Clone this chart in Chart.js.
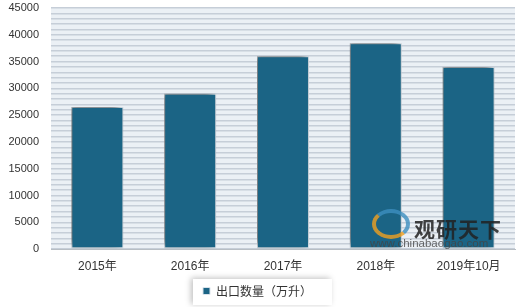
<!DOCTYPE html>
<html>
<head>
<meta charset="utf-8">
<script src="https://cdn.jsdelivr.net/npm/chart.js@4/dist/chart.umd.min.js"></script>
<style>
  html, body { margin: 0; padding: 0; background: #fff; }
  #wrap { position: relative; width: 520px; height: 307px; }
  #mark1 { position: absolute; left: 414px; top: 213px; font: bold 21px "Noto Sans CJK SC"; color: #222; letter-spacing: 1px; opacity: 0.85; }
  #mark2 { position: absolute; left: 370px; top: 237px; font: 11.5px "Liberation Sans"; color: #444; opacity: 0.8; }
  #logo { position: absolute; left: 372px; top: 209px; width: 30px; height: 22px; border-radius: 50%;
          border: 4px solid #3e8fc0; border-bottom-color: #f0a020; border-left-color: #f0a020; opacity: 0.8; }
</style>
</head>
<body>
<div id="wrap">
  <canvas id="myChart" width="520" height="307"></canvas>
  <div id="logo"></div>
  <div id="mark1">观研天下</div>
  <div id="mark2">www.chinabaogao.com</div>
</div>
<script>
var categories = ['2015年', '2016年', '2017年', '2018年', '2019年10月'];
var exportVolume = [26500, 29000, 36000, 38400, 34000];
var seriesName = '出口数量（万升）';
var yTickLabels = [0, 5000, 10000, 15000, 20000, 25000, 30000, 35000, 40000, 45000];

var barColor = '#1b6485';

// striped plot background + white legend box with shadow
var backdrop = {
    id: 'backdrop',
    beforeDraw: function (chart) {
        var ctx = chart.ctx, a = chart.chartArea;
        ctx.save();
        ctx.fillStyle = '#ebf0f5';
        ctx.fillRect(a.left, a.top, a.right - a.left, a.bottom - a.top);
        var box = chart.legend.legendHitBoxes[0];
        if (box) {
            ctx.shadowColor = 'rgba(0,0,0,0.25)';
            ctx.shadowBlur = 6;
            ctx.shadowOffsetX = -2;
            ctx.shadowOffsetY = -1;
            ctx.fillStyle = '#fff';
            ctx.fillRect(box.left - 10, box.top - 6, box.width + 30, box.height + 14);
        }
        ctx.restore();
    },
    beforeDatasetsDraw: function (chart) {
        var ctx = chart.ctx;
        ctx.save();
        ctx.shadowColor = 'rgba(0,0,0,0.6)';
        ctx.shadowBlur = 7;
        ctx.shadowOffsetX = -3;
        ctx.shadowOffsetY = -2;
    },
    afterDatasetsDraw: function (chart) {
        chart.ctx.restore();
    }
};

var ctx = document.getElementById('myChart');

var myChart = new Chart(ctx, {
    type: 'bar',
    data: {
        labels: categories,
        datasets: [{
            label: seriesName,
            data: exportVolume,
            backgroundColor: barColor,
            borderColor: '#d8e2ea',
            borderWidth: 1,
            borderSkipped: false,
            categoryPercentage: 1,
            barPercentage: 0.56
        }]
    },
    options: {
        responsive: false,
        animation: false,
        layout: { padding: { top: 0, right: 5, left: 0, bottom: 0 } },
        scales: {
            x: {
                grid: { display: false },
                border: { display: true, color: '#b8bec4', width: 1 },
                ticks: {
                    color: '#333',
                    font: { family: 'Liberation Sans, Noto Sans CJK SC', size: 12 },
                    padding: 2
                }
            },
            y: {
                min: 0,
                max: 45000,
                border: { display: false },
                afterFit: function (s) {
                    s.width = 51;
                    s.paddingTop = 8;
                },
                grid: {
                    color: '#c6ced8',
                    lineWidth: 1.5,
                    drawTicks: false
                },
                ticks: {
                    stepSize: 1000,
                    autoSkip: false,
                    padding: 12,
                    color: '#333',
                    font: { family: 'Liberation Sans', size: 11 },
                    callback: function (v) {
                        return yTickLabels.indexOf(v) >= 0 ? v : '';
                    }
                }
            }
        },
        plugins: {
            legend: {
                position: 'bottom',
                labels: {
                    boxWidth: 7,
                    boxHeight: 7,
                    color: '#333',
                    padding: 9.5,
                    font: { family: 'Noto Sans CJK SC', size: 12 }
                }
            },
            tooltip: { enabled: false }
        }
    },
    plugins: [backdrop]
});
</script>
</body>
</html>
